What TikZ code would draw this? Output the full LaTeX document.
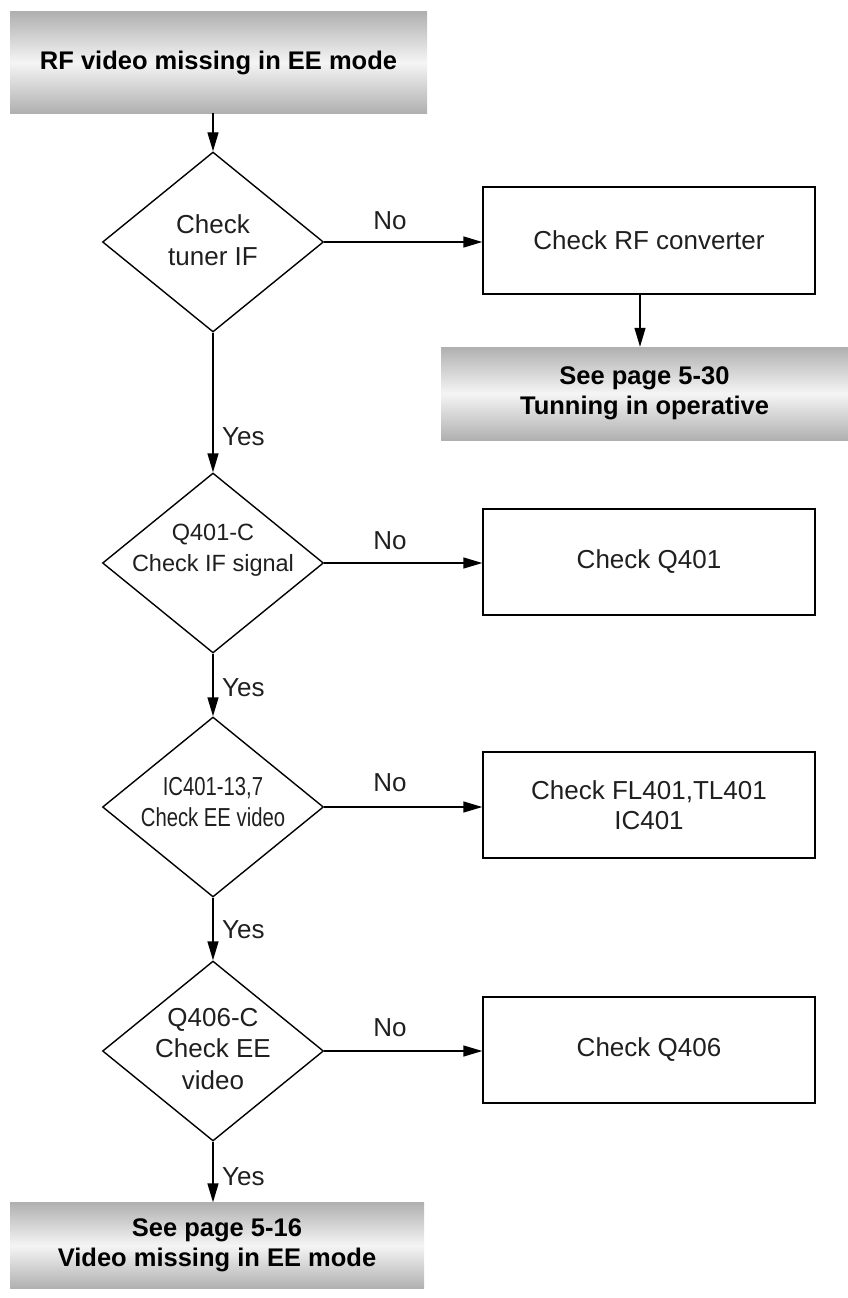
\documentclass[tikz,border=0pt]{standalone}
\usepackage{fontspec}
\setmainfont{Liberation Sans}
\usetikzlibrary{shapes.geometric,arrows.meta}
\begin{document}
\begin{tikzpicture}[x=1pt,y=-1pt,
  gbox/.style={rectangle, inner sep=0pt, top color=gray!62, bottom color=gray!62, middle color=gray!8,
    font=\fontsize{25.5}{30}\selectfont\bfseries, align=center, text=black},
  pbox/.style={rectangle, draw, line width=1.4pt, minimum width=332pt, minimum height=106pt, inner sep=0pt,
    font=\fontsize{26}{30}\selectfont, align=center, text=black!88},
  dia/.style={diamond, draw, line width=1.4pt, minimum width=221pt, minimum height=180pt, inner sep=0pt},
  dtext/.style={font=\fontsize{26}{31.5}\selectfont, align=center, text=black!88},
  arr/.style={-{Triangle[length=19pt,width=11pt]}, line width=1.4pt},
  lbl/.style={font=\fontsize{26}{28}\selectfont, text=black!88, inner sep=0pt}]
\useasboundingbox (0,0) rectangle (848,1298);

% terminal boxes
\node[gbox, minimum width=417pt, minimum height=101pt] (start) at (218.5,62.5) {RF video missing in EE mode};
\node[gbox, minimum width=407pt, minimum height=93pt] (see1) at (644.5,393.5) {See page 5-30\\Tunning in operative};
\node[gbox, minimum width=414pt, minimum height=86pt] (see2) at (217,1245.5) {See page 5-16\\Video missing in EE mode};

% decisions
\node[dia] (d1) at (213,242) {};
\node[dtext] (t1) at (213,240) {Check\\tuner IF};
\node[dia] (d2) at (213,563) {};
\node[dtext, font=\fontsize{23.5}{31.5}\selectfont] (t2) at (213,550) {Q401-C\\Check IF signal};
\node[dia] (d3) at (213,807) {};
\node[dtext] (t3) at (213,802) {\scalebox{0.78}[1]{IC401-13,7}\\\scalebox{0.78}[1]{Check EE video}};
\node[dia] (d4) at (213,1051) {};
\node[dtext] (t4) at (213,1049) {Q406-C\\Check EE\\video};

% process boxes
\node[pbox, minimum height=107pt] (b1) at (649,240.5) {Check RF converter};
\node[pbox] (b2) at (649,562) {Check Q401};
\node[pbox] (b3) at (649,805) {Check FL401,TL401\\IC401};
\node[pbox] (b4) at (649,1050) {Check Q406};

\coordinate (cx) at (640,0);

% connectors
\draw[arr] (start.south -| d1) -- (d1);
\draw[arr] (d1.east) -- (d1.east -| b1.west);
\draw[arr] (b1.south -| cx) -- (see1.north -| cx);
\draw[arr] (d1) -- (d2);
\draw[arr] (d2.east) -- (d2.east -| b2.west);
\draw[arr] (d2) -- (d3);
\draw[arr] (d3.east) -- (d3.east -| b3.west);
\draw[arr] (d3) -- (d4);
\draw[arr] (d4.east) -- (d4.east -| b4.west);
\draw[arr] (d4) -- (see2.north -| d4);

% labels
\node[lbl] (n1) at (390,221) {No};
\node[lbl] (n2) at (390,541) {No};
\node[lbl] (n3) at (390,783) {No};
\node[lbl] (n4) at (390,1028) {No};
\node[lbl, anchor=west] (y1) at (222,437) {Yes};
\node[lbl, anchor=west] (y2) at (222,688) {Yes};
\node[lbl, anchor=west] (y3) at (222,930) {Yes};
\node[lbl, anchor=west] (y4) at (222,1177) {Yes};
\end{tikzpicture}
\end{document}
